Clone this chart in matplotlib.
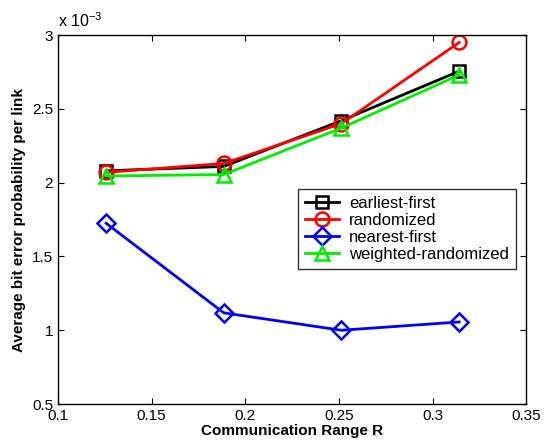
import matplotlib
matplotlib.use("Agg")
import matplotlib.pyplot as plt

plt.rcParams['font.family'] = ['Liberation Sans', 'DejaVu Sans']

R = [0.1257, 0.1885, 0.2513, 0.3142]
earliest_first = [2.08, 2.11, 2.42, 2.755]
randomized = [2.07, 2.13, 2.40, 2.95]
nearest_first = [1.725, 1.118, 1.0, 1.056]
weighted_randomized = [2.045, 2.055, 2.37, 2.73]

xticks = [0.1, 0.15, 0.2, 0.25, 0.3, 0.35]
yticks = [0.5, 1, 1.5, 2, 2.5, 3]

fig = plt.figure(figsize=(5.47, 4.44), dpi=100)
ax = fig.add_axes([0.106, 0.090, 0.856, 0.831])

lw = 2.0
ms = 9
mew = 1.8
ax.plot(R, earliest_first, color='black', marker='s', mfc='none', mew=mew, ms=ms, lw=lw, label='earliest-first')
ax.plot(R, randomized, color='red', marker='o', mfc='none', mew=mew, ms=ms+1, lw=lw, label='randomized')
ax.plot(R, nearest_first, color='blue', marker='D', mfc='none', mew=mew, ms=ms, lw=lw, label='nearest-first')
ax.plot(R, weighted_randomized, color='#00ee00', marker='^', mfc='none', mew=mew, ms=ms+1, lw=lw, label='weighted-randomized')

ax.set_xlim(0.1, 0.35)
ax.set_ylim(0.5, 3)
ax.set_xticks(xticks)
ax.set_xticklabels([f"{t:g}" for t in xticks])
ax.set_yticks(yticks)
ax.set_yticklabels([f"{t:g}" for t in yticks])
ax.tick_params(direction='in', top=True, right=True, labelsize=11, length=4)
for s in ax.spines.values():
    s.set_linewidth(1.0)

ax.set_xlabel('Communication Range R', fontsize=11, fontweight='bold', labelpad=1)
ax.set_ylabel('Average bit error probability per link', fontsize=11, fontweight='bold', labelpad=4)
ax.text(0.0, 1.015, r'x 10$^{\mathregular{-3}}$', transform=ax.transAxes, fontsize=11.5, ha='left', va='bottom')

leg = ax.legend(loc='upper left', bbox_to_anchor=(0.513, 0.582), fontsize=12,
                frameon=True, fancybox=False, edgecolor='black', borderpad=0.4,
                labelspacing=0.12, handlelength=2.05, handletextpad=0.6, borderaxespad=0)
leg.get_frame().set_linewidth(1.0)

fig.savefig('out.png', dpi=100)
